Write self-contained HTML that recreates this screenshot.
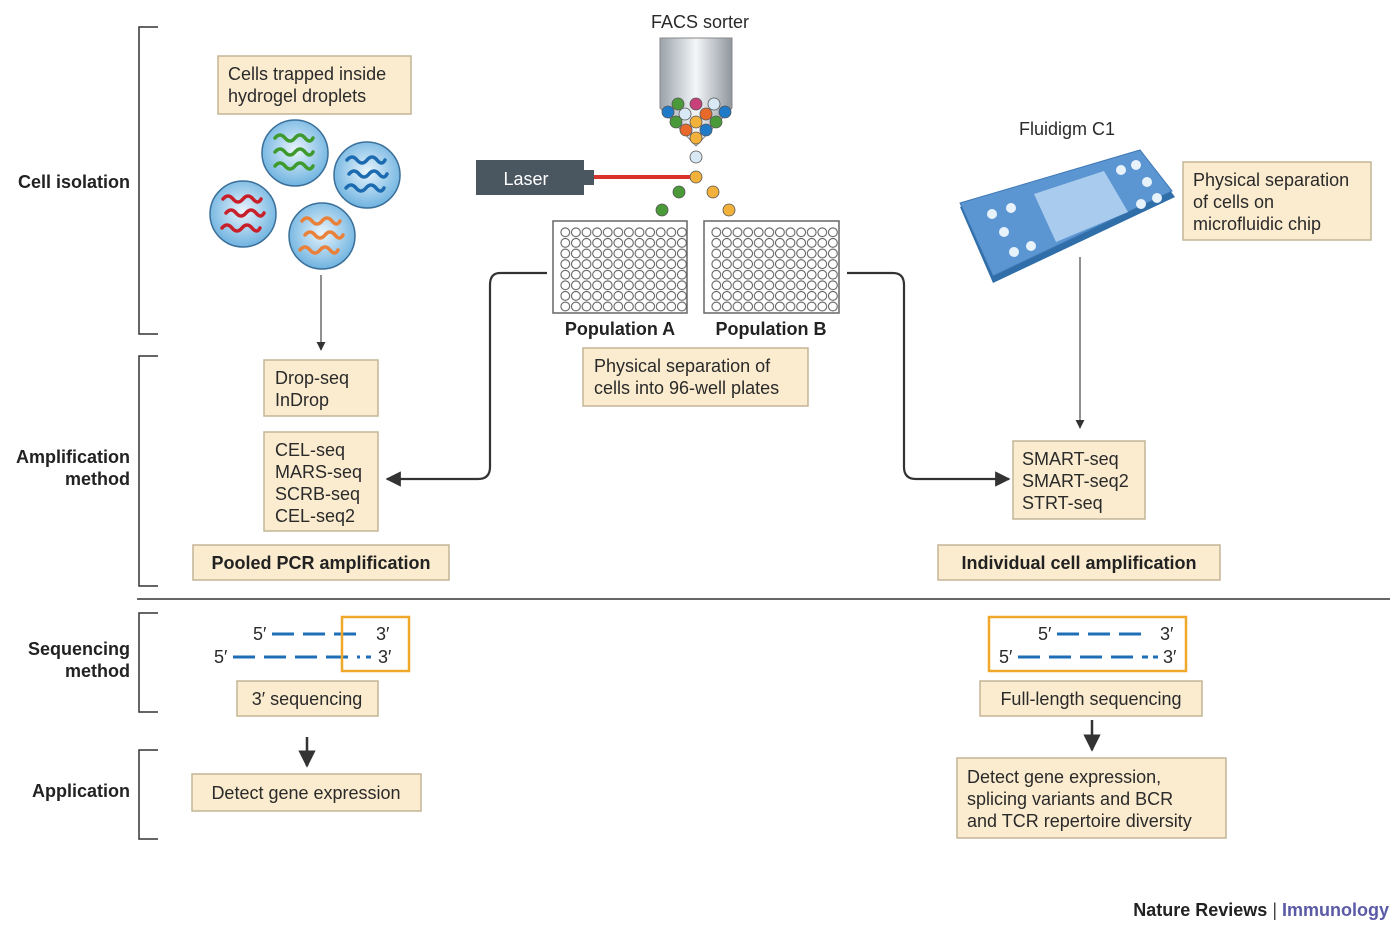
<!DOCTYPE html>
<html><head><meta charset="utf-8"><style>
html,body{margin:0;padding:0;background:#fff;}
svg{display:block;font-family:"Liberation Sans",sans-serif;}
.t{font-size:18px;fill:#2a2a2a;}
.b{font-size:18px;fill:#222;font-weight:bold;}
.box{fill:#fbeccf;stroke:#c4b597;stroke-width:1.5;}
.br{fill:none;stroke:#333;stroke-width:1.5;}
</style></head><body>
<svg width="1400" height="926" viewBox="0 0 1400 926" xmlns="http://www.w3.org/2000/svg">
<defs>
<pattern id="wells" x="560" y="227" width="10.6" height="10.6" patternUnits="userSpaceOnUse">
<circle cx="5.3" cy="5.3" r="4.4" fill="#fff" stroke="#555" stroke-width="1"/>
</pattern>
<pattern id="wells2" x="711" y="227" width="10.6" height="10.6" patternUnits="userSpaceOnUse">
<circle cx="5.3" cy="5.3" r="4.4" fill="#fff" stroke="#555" stroke-width="1"/>
</pattern>
<linearGradient id="tube" x1="0" x2="1">
<stop offset="0" stop-color="#9aa3ab"/><stop offset="0.5" stop-color="#f4f6f8"/><stop offset="1" stop-color="#8e969e"/>
</linearGradient>
<radialGradient id="drop" cx="0.5" cy="0.45" r="0.55">
<stop offset="0" stop-color="#e8f4fc"/><stop offset="1" stop-color="#6fb3e0"/>
</radialGradient>
<marker id="ar" viewBox="0 0 10 10" refX="9" refY="5" markerWidth="7" markerHeight="7" orient="auto"><path d="M0,0 L10,5 L0,10 z" fill="#333"/></marker>
</defs>

<path class="br" d="M158,27 H139 V334 H158"/>
<path class="br" d="M158,356 H139 V586 H158"/>
<path class="br" d="M158,613 H139 V712 H158"/>
<path class="br" d="M158,750 H139 V839 H158"/>
<line x1="137" y1="599" x2="1390" y2="599" stroke="#333" stroke-width="1.5"/>

<text class="b" x="130" y="188" text-anchor="end">Cell isolation</text>
<text class="b" x="130" y="463" text-anchor="end">Amplification</text>
<text class="b" x="130" y="485" text-anchor="end">method</text>
<text class="b" x="130" y="655" text-anchor="end">Sequencing</text>
<text class="b" x="130" y="677" text-anchor="end">method</text>
<text class="b" x="130" y="797" text-anchor="end">Application</text>

<rect class="box" x="218" y="56" width="193" height="58"/>
<text class="t" x="228" y="80">Cells trapped inside</text>
<text class="t" x="228" y="102">hydrogel droplets</text>
<g stroke-width="3.5" fill="none" stroke-linecap="round">
<circle cx="295" cy="153" r="33" fill="url(#drop)" stroke="#3a6f99" stroke-width="1.5"/>
<path d="M275,138 q5,-6 10,0 t10,0 t10,0 t8,0 M275,152 q5,-6 10,0 t10,0 t10,0 t8,0 M275,166 q5,-6 10,0 t10,0 t10,0 t8,0" stroke="#3f9a2e"/>
<circle cx="367" cy="175" r="33" fill="url(#drop)" stroke="#3a6f99" stroke-width="1.5"/>
<path d="M347,160 q5,-6 10,0 t10,0 t10,0 t8,0 M349,174 q5,-6 10,0 t10,0 t10,0 t8,0 M346,188 q5,-6 10,0 t10,0 t10,0 t8,0" stroke="#1c6bb0"/>
<circle cx="243" cy="214" r="33" fill="url(#drop)" stroke="#3a6f99" stroke-width="1.5"/>
<path d="M223,199 q5,-6 10,0 t10,0 t10,0 t8,0 M226,213 q5,-6 10,0 t10,0 t10,0 t8,0 M222,228 q5,-6 10,0 t10,0 t10,0 t8,0" stroke="#c8202a"/>
<circle cx="322" cy="236" r="33" fill="url(#drop)" stroke="#3a6f99" stroke-width="1.5"/>
<path d="M302,221 q5,-6 10,0 t10,0 t10,0 t8,0 M305,235 q5,-6 10,0 t10,0 t10,0 t8,0 M300,250 q5,-6 10,0 t10,0 t10,0 t8,0" stroke="#e9813a"/>
</g>
<line x1="321" y1="275" x2="321" y2="350" stroke="#555" stroke-width="1.3" marker-end="url(#ar)"/>

<rect class="box" x="264" y="360" width="114" height="56"/>
<text class="t" x="275" y="384">Drop-seq</text>
<text class="t" x="275" y="406">InDrop</text>
<rect class="box" x="264" y="432" width="114" height="99"/>
<text class="t" x="275" y="456">CEL-seq</text>
<text class="t" x="275" y="478">MARS-seq</text>
<text class="t" x="275" y="500">SCRB-seq</text>
<text class="t" x="275" y="522">CEL-seq2</text>
<rect class="box" x="193" y="545" width="256" height="35"/>
<text class="b" x="321" y="569" text-anchor="middle">Pooled PCR amplification</text>

<text class="t" x="700" y="28" text-anchor="middle">FACS sorter</text>
<path d="M660,38 H732 V108 L696,146 L660,108 Z" fill="url(#tube)" stroke="#888" stroke-width="1"/>
<g stroke="#555" stroke-width="0.8">
<circle cx="678" cy="104" r="6" fill="#4a9a3a"/><circle cx="696" cy="104" r="6" fill="#c8407a"/><circle cx="714" cy="104" r="6" fill="#d8e8f4"/>
<circle cx="668" cy="112" r="6" fill="#1f7ac8"/><circle cx="685" cy="114" r="6" fill="#d8e8f4"/><circle cx="706" cy="114" r="6" fill="#e86a2a"/><circle cx="725" cy="112" r="6" fill="#1f7ac8"/>
<circle cx="676" cy="122" r="6" fill="#4a9a3a"/><circle cx="696" cy="122" r="6" fill="#f2b13a"/><circle cx="716" cy="122" r="6" fill="#4a9a3a"/>
<circle cx="686" cy="130" r="6" fill="#e86a2a"/><circle cx="706" cy="130" r="6" fill="#1f7ac8"/>
<circle cx="696" cy="138" r="6" fill="#f2b13a"/>
<circle cx="696" cy="157" r="6" fill="#d8e8f4"/>
<circle cx="696" cy="177" r="6" fill="#f2b13a"/>
<circle cx="679" cy="192" r="6" fill="#4a9a3a"/><circle cx="662" cy="210" r="6" fill="#4a9a3a"/>
<circle cx="713" cy="192" r="6" fill="#f2b13a"/><circle cx="729" cy="210" r="6" fill="#f2b13a"/>
</g>
<rect x="476" y="160" width="108" height="35" fill="#4a5660"/>
<rect x="584" y="170" width="10" height="15" fill="#4a5660"/>
<text x="526" y="185" text-anchor="middle" style="font-size:18px;fill:#fff">Laser</text>
<line x1="594" y1="177" x2="690" y2="177" stroke="#d8322a" stroke-width="4"/>

<rect x="553" y="221" width="134" height="92" fill="#fff" stroke="#666" stroke-width="1.5"/>
<rect x="560" y="227" width="127.2" height="84.8" fill="url(#wells)"/>
<rect x="704" y="221" width="135" height="92" fill="#fff" stroke="#666" stroke-width="1.5"/>
<rect x="711" y="227" width="127.2" height="84.8" fill="url(#wells2)"/>
<text class="b" x="620" y="335" text-anchor="middle">Population A</text>
<text class="b" x="771" y="335" text-anchor="middle">Population B</text>
<rect class="box" x="583" y="348" width="225" height="58"/>
<text class="t" x="594" y="372">Physical separation of</text>
<text class="t" x="594" y="394">cells into 96-well plates</text>

<path d="M547,273 H500 Q490,273 490,285 V467 Q490,479 478,479 H387" fill="none" stroke="#333" stroke-width="2.2" marker-end="url(#ar)"/>
<path d="M847,273 H893 Q904,273 904,285 V467 Q904,479 916,479 H1009" fill="none" stroke="#333" stroke-width="2.2" marker-end="url(#ar)"/>

<text class="t" x="1067" y="135" text-anchor="middle">Fluidigm C1</text>
<g>
<path d="M960,207 L1140,150 L1175,197 L993,283 Z" fill="#2f6ea8"/>
<path d="M960,203 L1140,150 L1172,191 L993,276 Z" fill="#5b96d2" stroke="#3f78b5" stroke-width="1"/>
<path d="M1034,194 L1104,171 L1128,212 L1056,242 Z" fill="#a9cbee"/>
<g fill="#e8f2fb"><circle cx="992" cy="214" r="5"/><circle cx="1011" cy="208" r="5"/><circle cx="1004" cy="232" r="5"/><circle cx="1014" cy="252" r="5"/><circle cx="1031" cy="246" r="5"/>
<circle cx="1121" cy="170" r="5"/><circle cx="1136" cy="165" r="5"/><circle cx="1147" cy="182" r="5"/><circle cx="1141" cy="204" r="5"/><circle cx="1157" cy="198" r="5"/></g>
</g>
<rect class="box" x="1183" y="162" width="188" height="78"/>
<text class="t" x="1193" y="186">Physical separation</text>
<text class="t" x="1193" y="208">of cells on</text>
<text class="t" x="1193" y="230">microfluidic chip</text>
<line x1="1080" y1="257" x2="1080" y2="428" stroke="#555" stroke-width="1.3" marker-end="url(#ar)"/>

<rect class="box" x="1013" y="441" width="132" height="78"/>
<text class="t" x="1022" y="465">SMART-seq</text>
<text class="t" x="1022" y="487">SMART-seq2</text>
<text class="t" x="1022" y="509">STRT-seq</text>
<rect class="box" x="938" y="545" width="282" height="35"/>
<text class="b" x="1079" y="569" text-anchor="middle">Individual cell amplification</text>

<g stroke="#1f6fb8" stroke-width="3">
<path d="M272,634 H363" stroke-dasharray="22,9"/>
<path d="M233,657 H360" stroke-dasharray="22,9"/>
<path d="M366,657 H371"/>
</g>
<text class="t" x="253" y="640">5′</text><text class="t" x="376" y="640">3′</text>
<text class="t" x="214" y="663">5′</text><text class="t" x="378" y="663">3′</text>
<rect x="342" y="617" width="67" height="54" fill="none" stroke="#f0a82a" stroke-width="2.5"/>
<rect class="box" x="237" y="681" width="141" height="35"/>
<text class="t" x="307" y="705" text-anchor="middle">3′ sequencing</text>

<rect x="989" y="617" width="197" height="54" fill="none" stroke="#f0a82a" stroke-width="2.5"/>
<g stroke="#1f6fb8" stroke-width="3">
<path d="M1057,634 H1150" stroke-dasharray="22,9"/>
<path d="M1018,657 H1148" stroke-dasharray="22,9"/>
<path d="M1153,657 H1158"/>
</g>
<text class="t" x="1038" y="640">5′</text><text class="t" x="1160" y="640">3′</text>
<text class="t" x="999" y="663">5′</text><text class="t" x="1163" y="663">3′</text>
<rect class="box" x="980" y="681" width="222" height="35"/>
<text class="t" x="1091" y="705" text-anchor="middle">Full-length sequencing</text>

<line x1="307" y1="737" x2="307" y2="766" stroke="#333" stroke-width="2.5" marker-end="url(#ar)"/>
<line x1="1092" y1="720" x2="1092" y2="750" stroke="#333" stroke-width="2.5" marker-end="url(#ar)"/>
<rect class="box" x="192" y="774" width="229" height="37"/>
<text class="t" x="306" y="799" text-anchor="middle">Detect gene expression</text>
<rect class="box" x="957" y="758" width="269" height="80"/>
<text class="t" x="967" y="783">Detect gene expression,</text>
<text class="t" x="967" y="805">splicing variants and BCR</text>
<text class="t" x="967" y="827">and TCR repertoire diversity</text>

<text x="1389" y="916" text-anchor="end" style="font-size:18px;font-weight:bold"><tspan fill="#222">Nature Reviews</tspan><tspan fill="#444" font-weight="normal"> | </tspan><tspan fill="#5b5aa6">Immunology</tspan></text>
</svg>
</body></html>
